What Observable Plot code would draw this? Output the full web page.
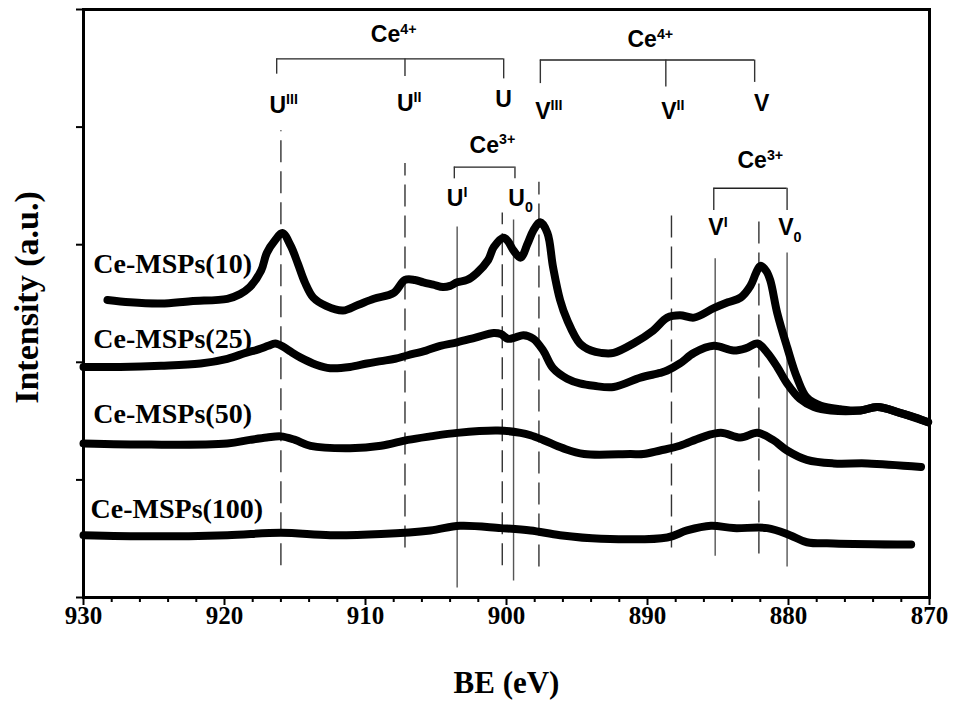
<!DOCTYPE html>
<html>
<head>
<meta charset="utf-8">
<script src="https://cdn.jsdelivr.net/npm/d3@7"></script>
<script src="https://cdn.jsdelivr.net/npm/@observablehq/plot@0.6"></script>
<style>
  html, body { margin: 0; padding: 0; background: #fff; }
  #chart svg { display: block; }
</style>
</head>
<body>
<div id="chart"></div>
<script>
// ---- Data (BE in eV, intensity in arbitrary units) ----
const be10 = [928.3, 926.7, 924.5, 922.4, 919.8, 918.9, 918.2, 917.4, 917.0, 916.4, 915.9, 915.3, 914.8, 914.3, 913.7, 912.8, 911.6, 910.5, 909.4, 908.0, 907.2, 906.5, 905.9, 905.2, 904.5, 904.0, 903.5, 902.8, 902.1, 901.3, 900.9, 900.2, 899.9, 899.5, 899.0, 898.5, 898.1, 897.6, 897.1, 896.7, 896.2, 895.7, 894.8, 894.0, 893.3, 892.4, 891.0, 889.6, 888.6, 887.7, 886.7, 885.3, 884.3, 883.4, 882.7, 882.3, 882.0, 881.6, 881.3, 880.8, 880.1, 879.4, 878.7, 877.7, 876.3, 874.9, 873.7, 872.1, 871.0, 870.1];
const int10 = [2.53, 2.51, 2.50, 2.52, 2.54, 2.58, 2.64, 2.78, 2.93, 3.04, 3.10, 2.99, 2.84, 2.68, 2.55, 2.48, 2.44, 2.49, 2.54, 2.59, 2.70, 2.70, 2.68, 2.66, 2.64, 2.65, 2.68, 2.70, 2.76, 2.87, 2.98, 3.06, 3.03, 2.95, 2.89, 3.01, 3.12, 3.19, 3.10, 2.81, 2.53, 2.36, 2.16, 2.10, 2.08, 2.08, 2.16, 2.27, 2.38, 2.40, 2.38, 2.46, 2.51, 2.55, 2.65, 2.76, 2.82, 2.78, 2.70, 2.42, 2.13, 1.87, 1.70, 1.63, 1.60, 1.59, 1.62, 1.57, 1.53, 1.49];

const be25 = [930.0, 927.4, 924.5, 921.7, 919.8, 918.5, 917.6, 916.9, 916.4, 915.8, 915.3, 914.6, 913.5, 912.5, 911.1, 909.9, 908.9, 907.9, 907.0, 905.7, 904.7, 903.5, 902.2, 900.9, 900.4, 899.9, 899.4, 898.8, 898.1, 897.4, 896.7, 895.7, 894.8, 893.8, 892.4, 890.5, 889.1, 888.6, 887.7, 886.7, 885.3, 883.9, 883.0, 882.2, 881.5, 880.8, 880.1, 879.2, 878.2, 877.0, 874.9, 873.7, 872.1, 870.1];
const int25 = [1.96, 1.96, 1.97, 1.99, 2.03, 2.08, 2.11, 2.14, 2.16, 2.13, 2.09, 2.04, 1.98, 1.95, 1.96, 1.99, 2.01, 2.03, 2.06, 2.10, 2.14, 2.17, 2.21, 2.25, 2.24, 2.20, 2.21, 2.23, 2.20, 2.10, 1.95, 1.86, 1.82, 1.80, 1.79, 1.87, 1.91, 1.93, 1.99, 2.08, 2.14, 2.10, 2.12, 2.16, 2.08, 1.96, 1.82, 1.69, 1.62, 1.59, 1.59, 1.62, 1.57, 1.49];

const be50 = [930.0, 925.2, 919.8, 918.2, 917.0, 916.0, 915.0, 913.9, 911.1, 908.9, 907.0, 905.4, 903.5, 900.6, 899.0, 898.3, 897.4, 896.0, 894.5, 891.2, 890.3, 889.1, 887.7, 886.2, 884.8, 883.4, 882.2, 881.1, 880.1, 878.7, 876.8, 874.4, 870.6];
const int50 = [1.31, 1.30, 1.31, 1.34, 1.36, 1.37, 1.34, 1.29, 1.27, 1.29, 1.34, 1.37, 1.40, 1.42, 1.40, 1.38, 1.34, 1.27, 1.22, 1.22, 1.22, 1.25, 1.29, 1.36, 1.40, 1.36, 1.40, 1.34, 1.25, 1.17, 1.14, 1.14, 1.11];

const be100 = [930.0, 925.2, 919.8, 916.0, 912.5, 908.9, 905.4, 903.3, 900.4, 898.3, 896.2, 893.3, 888.6, 887.2, 885.5, 883.9, 881.5, 879.9, 878.7, 876.8, 871.3];
const int100 = [0.53, 0.52, 0.53, 0.55, 0.53, 0.54, 0.57, 0.61, 0.59, 0.57, 0.53, 0.50, 0.51, 0.57, 0.61, 0.59, 0.59, 0.53, 0.47, 0.46, 0.45];

const seriesNames = ["Ce-MSPs(10)", "Ce-MSPs(25)", "Ce-MSPs(50)", "Ce-MSPs(100)"];
const seriesLabelBE = [929.3, 929.3, 929.3, 929.5];
const seriesLabelY = [2.76, 2.12, 1.48, 0.68];

// x-axis ticks
const majorTicks = [930, 920, 910, 900, 890, 880, 870];
const minorTicks = [928, 926, 924, 922, 918, 916, 914, 912, 908, 906, 904, 902, 898, 896, 894, 892, 888, 886, 884, 882, 878, 876, 874, 872];
const yTicks = [0, 1, 2, 3, 4, 5];

// Peak marker lines (Ce4+ dashed, Ce3+ solid)
const dashedBE = [916.0, 907.2, 900.3, 897.7, 888.3, 882.1];
const dashedTop = [3.97, 3.69, 3.27, 3.53, 3.31, 3.27];
const dashedBottom = [0.27, 0.42, 0.27, 0.26, 0.42, 0.37];
const solidBE = [903.5, 899.5, 885.2, 880.1];
const solidTop = [3.15, 3.21, 2.88, 2.93];
const solidBottom = [0.08, 0.14, 0.35, 0.26];

// Peak labels
const peakLabelBE = [915.8, 906.9, 900.2, 897.0, 888.2, 881.9, 903.5, 899.0, 885.0, 879.9, 908.0, 889.8, 901.0, 882.0];
const peakLabelY  = [4.12, 4.14, 4.17, 4.07, 4.07, 4.14, 3.33, 3.33, 3.08, 3.08, 4.72, 4.68, 3.78, 3.65];
const peakBase = ["U", "U", "U", "V", "V", "V", "U", "U", "V", "V", "Ce", "Ce", "Ce", "Ce"];
const peakSup  = ["III", "II", "", "III", "II", "", "I", "", "I", "", "4+", "4+", "3+", "3+"];
const peakSub  = ["", "", "", "", "", "", "", "0", "", "0", "", "", "", ""];

// Brackets
const bracketLeft = [916.3, 897.6, 903.7, 885.3];
const bracketRight = [900.2, 882.4, 899.4, 880.1];
const bracketY = [4.58, 4.57, 3.66, 3.48];
const bracketTickBE = [916.3, 907.2, 900.2, 897.6, 888.7, 882.4, 903.7, 899.4, 885.3, 880.1];
const bracketTickTop = [4.58, 4.58, 4.58, 4.57, 4.57, 4.57, 3.66, 3.66, 3.48, 3.48];
const bracketTickBottom = [4.45, 4.43, 4.41, 4.37, 4.34, 4.38, 3.56, 3.56, 3.29, 3.29];

// ---- Build tables ----
const curves = [];
[[be10, int10], [be25, int25], [be50, int50], [be100, int100]].forEach(([b, v], s) => {
  b.forEach((x, i) => curves.push({series: seriesNames[s], be: x, v: v[i]}));
});
const seriesLabels = seriesNames.map((n, i) => ({name: n, be: seriesLabelBE[i], v: seriesLabelY[i]}));
const dashed = dashedBE.map((x, i) => ({be: x, y1: dashedBottom[i], y2: dashedTop[i]}));
const solid = solidBE.map((x, i) => ({be: x, y1: solidBottom[i], y2: solidTop[i]}));
const peakLabels = peakLabelBE.map((x, i) => ({be: x, v: peakLabelY[i], base: peakBase[i], sup: peakSup[i], sub: peakSub[i]}));
const brackets = bracketLeft.map((x, i) => ({x1: x, x2: bracketRight[i], y: bracketY[i]}));
const bracketTicks = bracketTickBE.map((x, i) => ({be: x, y1: bracketTickBottom[i], y2: bracketTickTop[i]}));

const serif = "'Liberation Serif', 'Times New Roman', serif";
const sans = "'Liberation Sans', Arial, sans-serif";

const plot = Plot.plot({
  width: 954,
  height: 715,
  marginLeft: 83,
  marginRight: 25,
  marginTop: 9,
  marginBottom: 118,
  style: {background: "white", color: "black"},
  x: {domain: [930, 870]},
  y: {domain: [0, 5]},
  marks: [
    Plot.ruleX(dashed, {x: "be", y1: "y1", y2: "y2", stroke: "#333", strokeWidth: 1.4, strokeDasharray: "22,9"}),
    Plot.ruleX(solid, {x: "be", y1: "y1", y2: "y2", stroke: "#555", strokeWidth: 1.4}),
    Plot.line(curves, {x: "be", y: "v", z: "series", curve: "catmull-rom", stroke: "black", strokeWidth: 8, strokeLinejoin: "round", strokeLinecap: "round"}),
    Plot.ruleY(brackets, {x1: "x1", x2: "x2", y: "y", stroke: "#222", strokeWidth: 1.4}),
    Plot.ruleX(bracketTicks, {x: "be", y1: "y1", y2: "y2", stroke: "#333", strokeWidth: 1.4}),
    Plot.text(peakLabels, {x: "be", y: "v", text: "base", lineAnchor: "bottom", textAnchor: "middle", fontSize: 23, fontWeight: "bold", fontFamily: sans, fill: "black"}),
    Plot.text(seriesLabels, {x: "be", y: "v", text: "name", lineAnchor: "bottom", textAnchor: "start", fontSize: 28, fontWeight: "bold", fontFamily: serif, fill: "black"}),
    Plot.axisX(minorTicks, {tickSize: 5, strokeWidth: 2, tickFormat: () => "", label: null}),
    Plot.axisX(majorTicks, {tickSize: 8, tickPadding: 1, strokeWidth: 2, tickFormat: d => String(d), label: null, fontSize: 25, fontWeight: "bold", fontFamily: serif}),
    Plot.axisY(yTicks, {tickSize: 7, strokeWidth: 2, tickFormat: () => "", label: null}),
    Plot.text(["BE (eV)"], {frameAnchor: "bottom", dy: 95, fontSize: 31, fontWeight: "bold", fontFamily: serif, fill: "black"}),
    Plot.text(["Intensity (a.u.)"], {frameAnchor: "left", textAnchor: "middle", rotate: -90, dx: -56, dy: -6, fontSize: 34, fontWeight: "bold", fontFamily: serif, fill: "black"}),
    Plot.frame({stroke: "black", strokeWidth: 3})
  ]
});

// add superscripts / subscripts as tspans (first text mark = peak labels)
const textGroups = plot.querySelectorAll('g[aria-label="text"]');
if (textGroups.length) {
  d3.select(textGroups[0]).selectAll("text").each(function(_, i) {
    const d = peakLabels[i];
    if (!d) return;
    const t = d3.select(this);
    t.text(d.base);
    if (d.sup) t.append("tspan").attr("dy", "-0.6em").attr("font-size", "0.62em").text(d.sup);
    if (d.sub) t.append("tspan").attr("dy", "0.45em").attr("font-size", "0.62em").text(d.sub);
  });
}

document.getElementById("chart").appendChild(plot);
</script>
</body>
</html>
